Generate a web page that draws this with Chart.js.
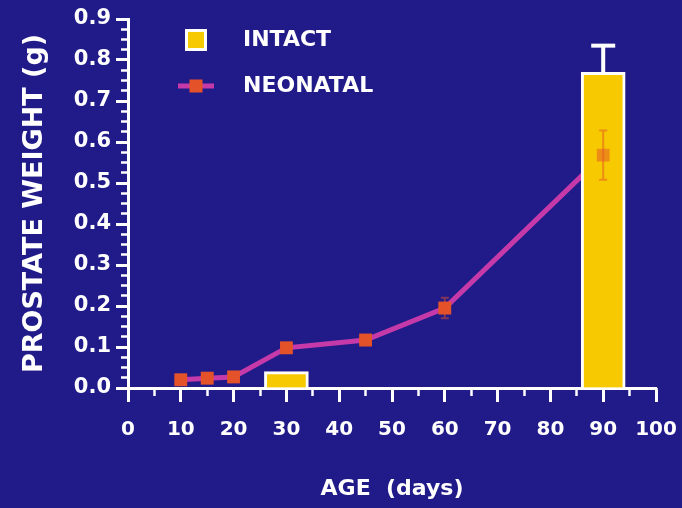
<!DOCTYPE html>
<html>
<head>
<meta charset="utf-8">
<script src="https://cdn.jsdelivr.net/npm/chart.js@4.4.1/dist/chart.umd.min.js"></script>
<style>
  html, body { margin: 0; padding: 0; background: #211b8a; }
  #wrap { width: 682px; height: 508px; }
  canvas { display: block; }
</style>
</head>
<body>
<div id="wrap"><canvas id="chart" width="682" height="508"></canvas></div>
<script>
// Series names
const seriesNames = ['INTACT', 'NEONATAL'];

// Intact animals: age (days), mean prostate weight (g), upper error
const intactAge = [30, 90];
const intactWeight = [0.04, 0.77];
const intactErr = [0, 0.065];

// Neonatally treated animals: age (days), mean prostate weight (g), error
const neonatalAge = [10, 15, 20, 30, 45, 60, 90];
const neonatalWeight = [0.02, 0.024, 0.027, 0.098, 0.117, 0.195, 0.568];
const neonatalErr = [0, 0, 0, 0, 0, 0.025, 0.06];

// Axis tick labels
const xTickLabels = ['0', '10', '20', '30', '40', '50', '60', '70', '80', '90', '100'];
const yTickLabels = ['0.0', '0.1', '0.2', '0.3', '0.4', '0.5', '0.6', '0.7', '0.8', '0.9'];

const WHITE = '#ffffff';
const YELLOW = '#f7c900';
const LINE_COLOR = '#c53aa8';
const MARKER_COLOR = '#e4522a';

// Whiskers for both series, plus the neonatal markers faintly showing through the bars
const errorBars = {
  id: 'errorBars',
  afterDatasetsDraw(chart) {
    const { ctx, scales: { x, y } } = chart;
    ctx.save();
    ctx.lineCap = 'butt';

    // intact: upward whisker with a flat cap
    ctx.strokeStyle = WHITE;
    ctx.lineWidth = 4;
    intactAge.forEach((age, i) => {
      if (!intactErr[i]) return;
      const px = x.getPixelForValue(age);
      const top = y.getPixelForValue(intactWeight[i]);
      const hi = y.getPixelForValue(intactWeight[i] + intactErr[i]);
      ctx.beginPath();
      ctx.moveTo(px, top);
      ctx.lineTo(px, hi);
      ctx.stroke();
      ctx.beginPath();
      ctx.moveTo(px - 12, hi);
      ctx.lineTo(px + 12, hi);
      ctx.stroke();
    });

    // neonatal: faint whiskers and markers
    ctx.globalAlpha = 0.5;
    ctx.strokeStyle = MARKER_COLOR;
    ctx.lineWidth = 2;
    neonatalAge.forEach((age, i) => {
      if (!neonatalErr[i]) return;
      const px = x.getPixelForValue(age);
      const lo = y.getPixelForValue(neonatalWeight[i] - neonatalErr[i]);
      const hi = y.getPixelForValue(neonatalWeight[i] + neonatalErr[i]);
      ctx.beginPath();
      ctx.moveTo(px, lo); ctx.lineTo(px, hi);
      ctx.moveTo(px - 4, lo); ctx.lineTo(px + 4, lo);
      ctx.moveTo(px - 4, hi); ctx.lineTo(px + 4, hi);
      ctx.stroke();
    });
    chart.getDatasetMeta(1).data.forEach(pt => pt.draw(ctx, chart.chartArea));
    ctx.restore();
  }
};

// Key in the upper-left of the plot
const keyBox = {
  id: 'keyBox',
  afterDraw(chart) {
    const { ctx, chartArea } = chart;
    const ds = chart.data.datasets;
    const sx = chartArea.left + 68;   // symbol centre
    const tx = chartArea.left + 115;  // text start
    const rows = [chartArea.top + 21, chartArea.top + 67];
    ctx.save();
    // bar swatch
    ctx.fillStyle = ds[0].backgroundColor;
    ctx.fillRect(sx - 11, rows[0] - 11, 22, 22);
    ctx.strokeStyle = ds[0].borderColor;
    ctx.lineWidth = 3;
    ctx.strokeRect(sx - 9.5, rows[0] - 9.5, 19, 19);
    // line swatch with marker
    ctx.strokeStyle = ds[1].borderColor;
    ctx.lineWidth = 5;
    ctx.beginPath();
    ctx.moveTo(sx - 18, rows[1]);
    ctx.lineTo(sx + 18, rows[1]);
    ctx.stroke();
    ctx.fillStyle = ds[1].pointBackgroundColor;
    ctx.fillRect(sx - 6.5, rows[1] - 6.5, 13, 13);
    // labels
    ctx.fillStyle = WHITE;
    ctx.font = 'bold 22px "DejaVu Sans"';
    ctx.textBaseline = 'middle';
    ctx.textAlign = 'left';
    ctx.fillText(ds[0].label, tx, rows[0]);
    ctx.fillText(ds[1].label, tx, rows[1]);
    ctx.restore();
  }
};

new Chart(document.getElementById('chart'), {
  type: 'bar',
  data: {
    datasets: [
      {
        type: 'bar',
        label: seriesNames[0],
        data: intactAge.map((a, i) => ({ x: a, y: intactWeight[i] })),
        backgroundColor: YELLOW,
        borderColor: WHITE,
        borderWidth: 3,
        barThickness: 44,
        order: 0
      },
      {
        type: 'line',
        label: seriesNames[1],
        data: neonatalAge.map((a, i) => ({ x: a, y: neonatalWeight[i] })),
        borderColor: LINE_COLOR,
        borderWidth: 5,
        tension: 0,
        pointStyle: 'rect',
        pointRadius: 9,
        pointBorderWidth: 0,
        pointBackgroundColor: MARKER_COLOR,
        order: 1
      }
    ]
  },
  options: {
    responsive: false,
    animation: false,
    devicePixelRatio: 1,
    layout: { padding: { top: 19, right: 26, bottom: 0, left: 0 } },
    plugins: {
      legend: { display: false },
      tooltip: { enabled: false }
    },
    scales: {
      x: {
        type: 'linear',
        position: 'bottom',
        weight: 1,
        min: 0,
        max: 100,
        offset: false,
        afterFit(s) { s.height = 120; },
        border: { display: true, color: WHITE, width: 3 },
        grid: { display: true, offset: false, drawOnChartArea: false, drawTicks: true, tickLength: 14, tickWidth: 3, tickColor: WHITE, color: WHITE },
        ticks: {
          stepSize: 10, autoSkip: false, maxRotation: 0, padding: 5,
          color: WHITE, font: { family: 'DejaVu Sans', weight: 'bold', size: 20, lineHeight: 2.3 },
          callback: v => xTickLabels[Math.round(v / 10)]
        },
        title: {
          display: true, text: 'AGE  (days)', color: WHITE,
          font: { family: 'DejaVu Sans', weight: 'bold', size: 22 },
          padding: { top: 0, bottom: 6 }
        }
      },
      xMinor: {
        type: 'linear',
        position: 'bottom',
        weight: 0,
        min: 0,
        max: 100,
        offset: false,
        afterFit(s) { s.height = 0; },
        border: { display: false },
        grid: { display: true, offset: false, drawOnChartArea: false, drawTicks: true, tickLength: 8, tickWidth: 2.5, tickColor: WHITE },
        ticks: { display: false, stepSize: 5, autoSkip: false, maxTicksLimit: 100 }
      },
      y: {
        type: 'linear',
        position: 'left',
        weight: 1,
        min: 0,
        max: 0.9,
        afterFit(s) { s.width = 128; },
        border: { display: true, color: WHITE, width: 3 },
        grid: { display: true, drawOnChartArea: false, drawTicks: true, tickLength: 12, tickWidth: 3, tickColor: WHITE, color: WHITE },
        ticks: {
          stepSize: 0.1, autoSkip: false, padding: 5,
          color: WHITE, font: { family: 'DejaVu Sans', weight: 'bold', size: 21 },
          callback: v => yTickLabels[Math.round(v * 10)]
        },
        title: {
          display: true, text: 'PROSTATE WEIGHT (g)', color: WHITE,
          font: { family: 'DejaVu Sans', weight: 'bold', size: 27 },
          padding: { top: 19, bottom: 0 }
        }
      },
      yMinor: {
        type: 'linear',
        position: 'left',
        weight: 0,
        min: 0,
        max: 0.9,
        afterFit(s) { s.width = 0; },
        border: { display: false },
        grid: { display: true, drawOnChartArea: false, drawTicks: true, tickLength: 7, tickWidth: 2.5, tickColor: WHITE },
        ticks: { display: false, stepSize: 0.025, autoSkip: false, maxTicksLimit: 100 }
      }
    }
  },
  plugins: [errorBars, keyBox]
});
</script>
</body>
</html>
